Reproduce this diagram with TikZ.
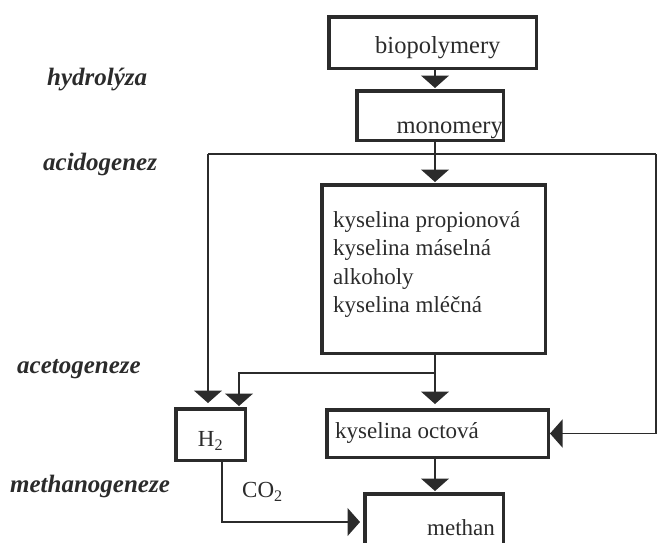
\documentclass[tikz,border=0pt]{standalone}
\usepackage{fontspec}
\setmainfont{Liberation Serif}
\usetikzlibrary{arrows.meta}
\definecolor{ink}{gray}{0.17}
\tikzset{
  box/.style={draw=ink, line width=3.5pt, rectangle, inner sep=0pt},
  txt/.style={inner sep=0pt, text=ink, font=\fontsize{23}{28.5}\selectfont},
  toptxt/.style={inner sep=0pt, text=ink, font=\fontsize{24.5}{28}\selectfont},
  phase/.style={inner sep=0pt, text=ink, font=\fontsize{25}{28}\selectfont\bfseries\itshape, anchor=base west},
  conn/.style={draw=ink, line width=1.3pt},
  arr/.style={conn, -{Triangle[width=28pt,length=12.5pt]}},
}
\begin{document}
\begin{tikzpicture}[x=1pt,y=-1pt]
\useasboundingbox (0,0) rectangle (657,542);
\clip (0,0) rectangle (657,542);

% boxes
\node[box, minimum width=207.5pt, minimum height=51.5pt] (bio) at (432.5,42.5) {};
\node[box, minimum width=146.5pt, minimum height=49.5pt] (mono) at (430,115.5) {};
\node[box, minimum width=223.5pt, minimum height=168.5pt] (big) at (433.5,269) {};
\node[box, minimum width=69.5pt, minimum height=51.5pt] (h2) at (210.5,434.5) {};
\node[box, minimum width=221.5pt, minimum height=47.5pt] (ko) at (437.5,433.5) {};
\node[box, minimum width=138.5pt, minimum height=64.5pt] (meth) at (434,526) {};

% box texts
\node[toptxt, anchor=base west] (tbio) at (375,53) {biopolymery};
\node[toptxt, anchor=base east] (tmono) at (503,133) {monomery};
\node[txt, anchor=north west, align=left] (tbig) at (333,211) {kyselina propionová\\kyselina máselná\\alkoholy\\kyselina mléčná};
\node[txt] (th2) at (210.5,441) {H\textsubscript{2}};
\node[txt, anchor=west] (tko) at (335,433) {kyselina octová};
\node[txt, anchor=base west] (tmeth) at (427,535) {methan};
\node[txt, anchor=west] (tco2) at (242,492) {CO\textsubscript{2}};

% phase labels
\node[phase] (p1) at (47,85) {hydrolýza};
\node[phase] (p2) at (43,170) {acidogenez};
\node[phase] (p3) at (17,373) {acetogeneze};
\node[phase] (p4) at (10,492) {methanogeneze};

% axis and junctions
\coordinate (ax) at (435,0);
\coordinate (s1) at (208,154);
\coordinate (s2) at (656,154);
\coordinate (s3) at (435,373);
\coordinate (s4) at (239,373);
\coordinate (s5) at (222,522);

% connectors
\draw[arr, shorten >=1pt] (bio.south -| ax) -- (mono.north -| ax);
\draw[arr, shorten >=1pt] (mono.south -| ax) -- (big.north -| ax);
\draw[conn] (s1) -- (s2);
\draw[arr, shorten >=4pt] (s1) -- (s1 |- h2.north);
\draw[arr] (s2) |- (ko.east);
\draw[arr, shorten >=4pt] (big.south -| ax) -- (ko.north -| ax);
\draw[arr, shorten >=1pt] (s3) -- (s4) -- (s4 |- h2.north);
\draw[arr, shorten >=1pt] (ko.south -| ax) -- (meth.north -| ax);
\draw[arr, shorten >=3pt] (h2.south -| s5) -- (s5) -- (s5 -| meth.west);
\end{tikzpicture}
\end{document}
